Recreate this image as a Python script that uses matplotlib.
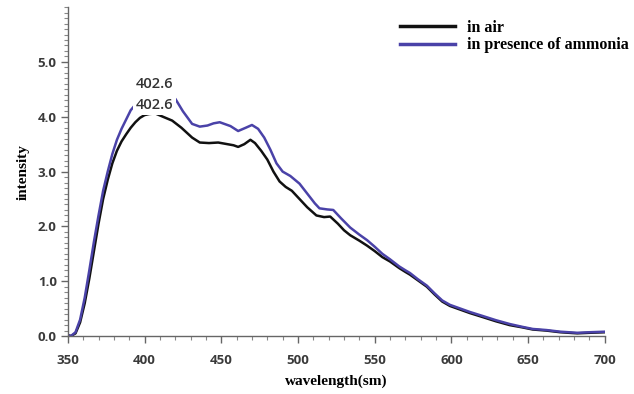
import matplotlib
matplotlib.use("Agg")
import matplotlib.pyplot as plt
from matplotlib.ticker import MultipleLocator

# wavelength (nm) and intensity readings
wl_air = [350, 352, 355, 358, 361, 364, 367, 370, 373, 376, 379, 382, 385, 388, 391, 394, 397, 400,
          403, 407, 412, 418, 424, 431, 436, 442, 448, 454, 458, 461, 465, 469, 472, 476, 480, 484,
          488, 492, 496, 501, 506, 512, 517, 521, 526, 530, 534, 540, 545, 550, 555, 560, 566, 570,
          573, 578, 584, 589, 594, 599, 604, 612, 620, 629, 638, 646, 653, 662, 671, 682, 690, 700]
int_air = [0.02, 0.0, 0.05, 0.25, 0.6, 1.05, 1.55, 2.05, 2.5, 2.85, 3.15, 3.38, 3.55, 3.68, 3.8, 3.9, 3.98, 4.03,
           4.05, 4.06, 4.0, 3.93, 3.8, 3.62, 3.53, 3.52, 3.53, 3.5, 3.48, 3.45, 3.5, 3.58, 3.52, 3.38, 3.22, 3.0,
           2.82, 2.72, 2.65, 2.5, 2.35, 2.2, 2.17, 2.18, 2.05, 1.93, 1.84, 1.74, 1.65, 1.55, 1.44, 1.36, 1.24, 1.17,
           1.12, 1.02, 0.9, 0.76, 0.63, 0.55, 0.5, 0.42, 0.35, 0.27, 0.2, 0.16, 0.12, 0.1, 0.07, 0.05, 0.06, 0.07]

wl_nh3 = [350, 352, 355, 358, 361, 364, 367, 370, 373, 376, 379, 382, 385, 388, 391, 394, 397, 400,
          403, 407, 412, 416, 420, 425, 431, 436, 441, 445, 449, 453, 456, 461, 466, 470, 474, 478, 482,
          486, 490, 495, 501, 506, 511, 514, 519, 523, 528, 534, 540, 545, 550, 555, 560, 566, 570,
          573, 578, 584, 589, 594, 599, 604, 612, 620, 629, 638, 646, 653, 662, 671, 682, 690, 700]
int_nh3 = [0.02, 0.0, 0.07, 0.3, 0.7, 1.2, 1.72, 2.2, 2.65, 3.0, 3.32, 3.58, 3.78, 3.95, 4.12, 4.22, 4.26, 4.28,
           4.3, 4.32, 4.34, 4.35, 4.33, 4.1, 3.87, 3.82, 3.84, 3.88, 3.9, 3.86, 3.83, 3.74, 3.8, 3.85, 3.78, 3.62, 3.4,
           3.15, 3.0, 2.92, 2.78, 2.6, 2.42, 2.33, 2.31, 2.3, 2.15, 1.98, 1.85, 1.75, 1.63, 1.5, 1.4, 1.27, 1.2,
           1.15, 1.04, 0.92, 0.78, 0.65, 0.57, 0.52, 0.44, 0.37, 0.29, 0.22, 0.17, 0.13, 0.11, 0.08, 0.06, 0.07, 0.08]

legend_labels = ["in air", "in presence of ammonia"]
peak_label = "402.6"
x_ticks = [350, 400, 450, 500, 550, 600, 650, 700]
y_ticks = [0.0, 1.0, 2.0, 3.0, 4.0, 5.0]

fig = plt.figure(figsize=(6.34, 3.94), dpi=100)
ax = fig.add_axes([0.107, 0.147, 0.847, 0.835])

black = "#111111"
blue = "#4a42a8"
ax.plot(wl_air, int_air, color=black, lw=1.8, label=legend_labels[0], solid_joinstyle="round", zorder=2)
ax.plot(wl_nh3, int_nh3, color=blue, lw=1.8, label=legend_labels[1], solid_joinstyle="round", zorder=2)

ax.set_xlim(350, 700)
ax.set_ylim(0, 6.0)
ax.set_xticks(x_ticks)
ax.set_yticks(y_ticks)
ax.set_yticklabels([f"{v:.1f}" for v in y_ticks])
ax.xaxis.set_minor_locator(MultipleLocator(10))
ax.yaxis.set_minor_locator(MultipleLocator(0.1))

for s in ["top", "right"]:
    ax.spines[s].set_visible(False)
for s in ["left", "bottom"]:
    ax.spines[s].set_color("#666666")
    ax.spines[s].set_linewidth(1.0)

ax.tick_params(which="major", direction="out", length=5, width=1.0, color="#666666")
ax.tick_params(which="minor", direction="out", length=3, width=0.8, color="#888888")
for lab in ax.get_xticklabels() + ax.get_yticklabels():
    lab.set_fontfamily("Open Sans")
    lab.set_fontweight("bold")
    lab.set_fontsize(9.5)
    lab.set_color("#3a3a3a")
ax.tick_params(axis="x", pad=8)
ax.tick_params(axis="y", pad=3)

serif = "Liberation Serif"
ax.set_xlabel("wavelength(sm)", fontfamily=serif, fontweight="bold", fontsize=11, labelpad=5)
ax.set_ylabel("intensity", fontfamily=serif, fontweight="bold", fontsize=11, labelpad=6)

bbox = dict(boxstyle="square,pad=0.2", fc="white", ec="none")
ax.text(406.5, 4.6, peak_label, ha="center", va="center", fontsize=10.5, color="#333333",
        fontfamily="Open Sans", fontweight="semibold", bbox=bbox, zorder=5)
ax.text(406.5, 4.22, peak_label, ha="center", va="center", fontsize=10.5, color="#333333",
        fontfamily="Open Sans", fontweight="semibold", bbox=bbox, zorder=5)

leg = ax.legend(loc="upper right", bbox_to_anchor=(1.072, 1.005), frameon=False,
                prop=dict(family=serif, weight="bold", size=11.5),
                handlelength=3.4, handletextpad=0.8, labelspacing=0.08)
for line in leg.get_lines():
    line.set_linewidth(2.5)

fig.savefig("out.png", dpi=100)
